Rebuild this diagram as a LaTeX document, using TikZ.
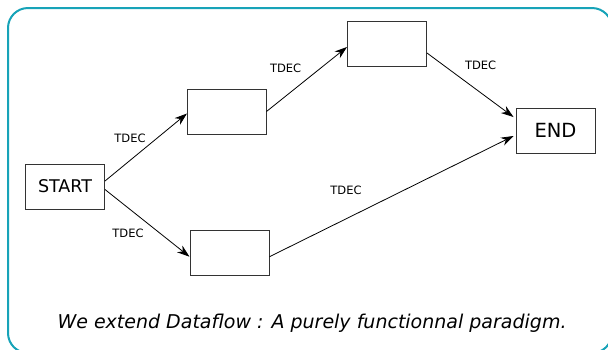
\documentclass[tikz,border=0pt]{standalone}
\usepackage{fontspec}
\setmainfont{DejaVu Sans}
\usetikzlibrary{arrows.meta}
\definecolor{frame}{HTML}{17A3B8}
\definecolor{boxline}{HTML}{333333}
\begin{document}
\begin{tikzpicture}[x=1pt,y=-1pt,
  stepbox/.style={draw=boxline,line width=1pt,minimum width=79pt,minimum height=45pt,inner sep=0pt},
  flow/.style={draw=black,line width=0.8pt,-{Stealth[length=12.5pt,width=8.5pt,inset=4pt]}},
  tag/.style={font=\fontsize{11.5}{12}\selectfont}]
  \useasboundingbox (0,0) rectangle (608,349);
  % outer frame
  \draw[frame,line width=2pt,rounded corners=20pt] (8,8) rectangle (612,353);
  % nodes
  \node[stepbox,font=\fontsize{17.5}{19}\selectfont] (start) at (65,186.5) {START};
  \node[stepbox] (mid) at (227,111.5) {};
  \node[stepbox] (low) at (229.5,253) {};
  \node[stepbox] (top) at (387,43.5) {};
  \node[stepbox,font=\fontsize{19.5}{21}\selectfont] (end) at (555.5,130.5) {END};
  % connectors
  \draw[flow] ([yshift=5.5pt]start.east) -- ([yshift=-2pt]mid.west);
  \draw[flow] ([yshift=-3pt]start.east) -- ([yshift=-3.7pt]low.west);
  \draw[flow] ([xshift=-0.5pt]mid.east) -- ([yshift=-3.5pt]top.west);
  \draw[flow] ([yshift=-9.5pt]top.east) -- ([xshift=-2pt,yshift=13.5pt]end.west);
  \draw[flow] ([yshift=-3.7pt]low.east) -- ([xshift=-2pt,yshift=-5.5pt]end.west);
  % labels
  \node[tag] (l1) at (130,138) {TDEC};
  \node[tag] (l2) at (128,233) {TDEC};
  \node[tag] (l3) at (285.6,68) {TDEC};
  \node[tag] (l4) at (480.6,65.4) {TDEC};
  \node[tag] (l5) at (346,190.6) {TDEC};
  % caption
  \node[font=\fontsize{19}{21}\selectfont\itshape] (cap) at (312,323) {We extend Dataflow : A purely functionnal paradigm.};
\end{tikzpicture}
\end{document}
